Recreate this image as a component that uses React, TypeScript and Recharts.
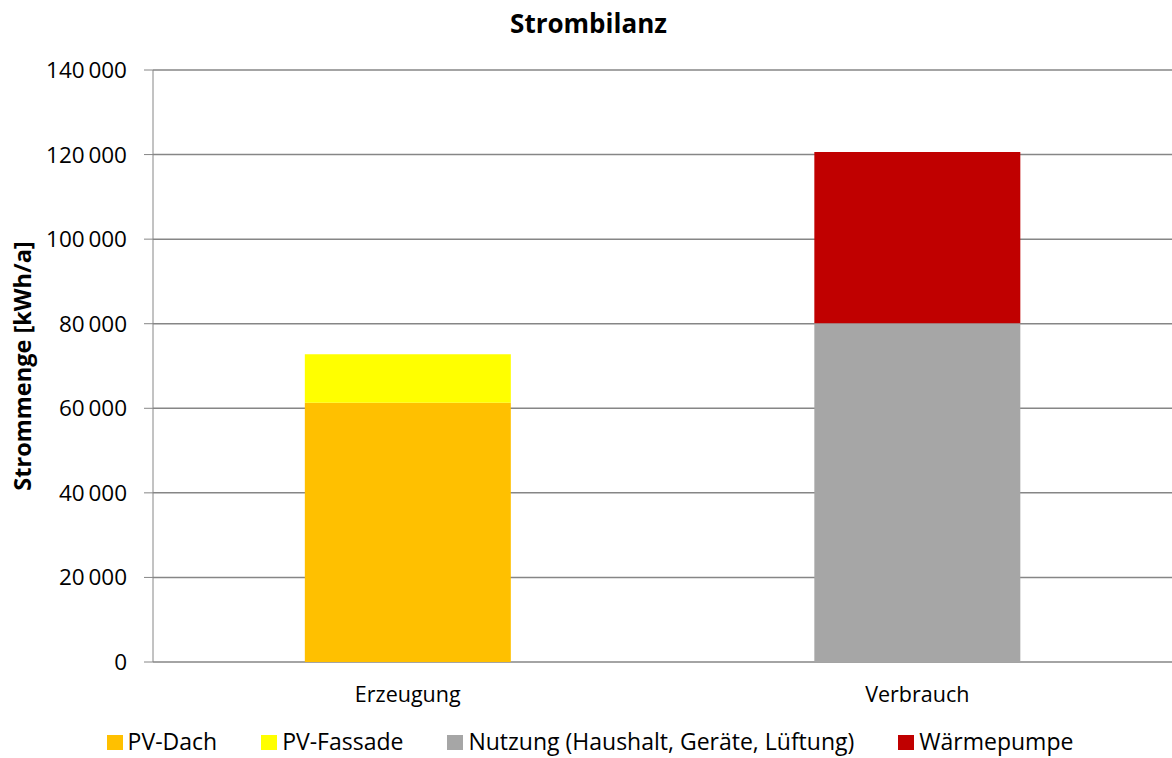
import React from "react";
import {
  BarChart,
  Bar,
  XAxis,
  YAxis,
  CartesianGrid,
  Legend,
} from "recharts";

const categories = ["Erzeugung", "Verbrauch"];
const pvDach = [61300, 0];
const pvFassade = [11500, 0];
const nutzung = [0, 80100];
const waermepumpe = [0, 40500];
const yTicks = [0, 20000, 40000, 60000, 80000, 100000, 120000, 140000];

const series = [
  { key: "pvDach", name: "PV-Dach", fill: "#FFC000" },
  { key: "pvFassade", name: "PV-Fassade", fill: "#FFFF00" },
  { key: "nutzung", name: "Nutzung (Haushalt, Geräte, Lüftung)", fill: "#A6A6A6" },
  { key: "waermepumpe", name: "Wärmepumpe", fill: "#C00000" },
];

const data = categories.map((name, i) => ({
  name,
  pvDach: pvDach[i],
  pvFassade: pvFassade[i],
  nutzung: nutzung[i],
  waermepumpe: waermepumpe[i],
}));

const FONT = "'Open Sans', sans-serif";
const GRID = "#868686";

const fmt = (v: number) =>
  String(v).replace(/\B(?=(\d{3})+(?!\d))/g, "\u2009");

const LegendContent = () => (
  <div
    style={{
      display: "flex",
      justifyContent: "center",
      gap: 44,
      fontFamily: FONT,
      fontSize: 23,
      color: "#000",
      paddingTop: 7,
      paddingLeft: 8,
    }}
  >
    {series.map((s) => (
      <div key={s.key} style={{ display: "flex", alignItems: "center" }}>
        <span
          style={{
            width: 16,
            height: 15,
            background: s.fill,
            display: "inline-block",
            marginRight: 5,
            marginTop: 3,
          }}
        />
        <span>{s.name}</span>
      </div>
    ))}
  </div>
);

const App = () => {
  return (
    <div
      style={{
        position: "absolute",
        left: 0,
        top: 0,
        width: 1172,
        height: 758,
        background: "#fff",
        fontFamily: FONT,
      }}
    >
      <div
        style={{
          position: "absolute",
          top: 5,
          left: 0,
          width: 1177,
          textAlign: "center",
          fontWeight: 700,
          fontSize: 26,
          color: "#000",
        }}
      >
        Strombilanz
      </div>
      <BarChart
        width={1172}
        height={758}
        data={data}
        margin={{ top: 70, right: 0, bottom: 0, left: 0 }}
        barCategoryGap="29.8%"
      >
        <CartesianGrid vertical={false} stroke={GRID} strokeWidth={1.5} />
        <XAxis
          xAxisId="edge"
          type="number"
          domain={[0, 2]}
          ticks={[0, 1, 2]}
          allowDataOverflow
          height={0}
          tickSize={8}
          tickFormatter={() => ""}
          stroke={GRID}
          strokeWidth={2}
        />
        <XAxis
          xAxisId="cat"
          dataKey="name"
          axisLine={false}
          tickLine={false}
          tickSize={0}
          tickMargin={25}
          height={56}
          tick={{ fill: "#000", fontSize: 21.5, fontFamily: FONT }}
        />
        <YAxis
          width={153}
          domain={[0, 140000]}
          ticks={yTicks}
          tickFormatter={fmt}
          tickSize={9}
          tickMargin={17}
          stroke={GRID}
          tick={{ fill: "#000", fontSize: 22.5, fontFamily: FONT }}
          label={{
            value: "Strommenge [kWh/a]",
            angle: -90,
            position: "center",
            dx: -54,
            style: { fontWeight: 700, fontSize: 23.5, fill: "#000", fontFamily: FONT },
          }}
        />
        <Legend verticalAlign="bottom" height={40} content={<LegendContent />} />
        {series.map((s) => (
          <Bar
            key={s.key}
            xAxisId="cat"
            dataKey={s.key}
            name={s.name}
            stackId="a"
            fill={s.fill}
            isAnimationActive={false}
          />
        ))}
      </BarChart>
    </div>
  );
};

export default App;
